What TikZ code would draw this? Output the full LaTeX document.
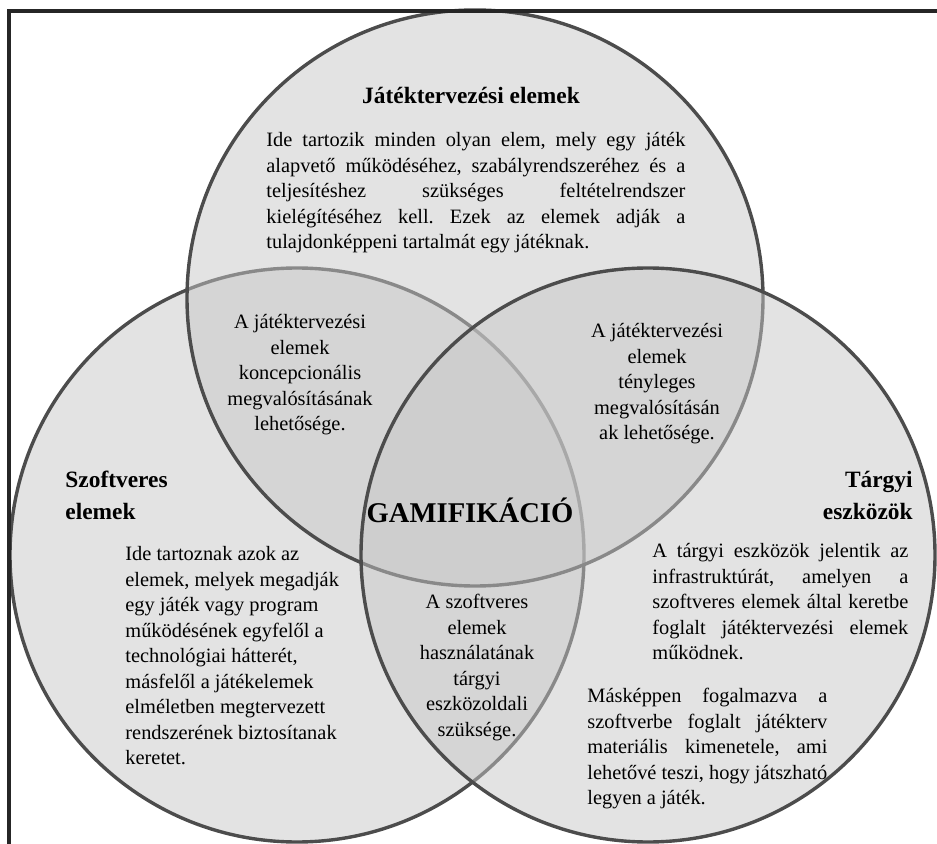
\documentclass[tikz,border=0pt]{standalone}
\usepackage{fontspec}
\setmainfont{Liberation Serif}
\definecolor{vennfill}{gray}{0.78}
\definecolor{vennline}{gray}{0.3}
\frenchspacing
\hyphenpenalty=10000
\exhyphenpenalty=10000
\tolerance=10000
\hbadness=10000

\begin{document}
\begin{tikzpicture}[x=0.5pt,y=-0.5pt,
  venn/.style={draw=vennline, line width=1.7pt, fill=vennfill, fill opacity=0.5},
  head/.style={inner sep=0pt, font=\fontsize{11.7}{16}\selectfont\bfseries},
  body/.style={inner sep=0pt, font=\fontsize{10.2}{12.75}\selectfont},
  just/.style={body, align=justify}]
\useasboundingbox (0,0) rectangle (937,844);
\draw[venn] (297,555) circle (143.5pt);
\draw[venn] (475,298) circle (144pt);
\draw[venn] (648,555) circle (143.5pt);
\draw[line width=1.7pt, black!85] (9,844) -- (9,11) -- (937,11);
\node[head, anchor=base] (jtitle) at (471,104) {Játéktervezési elemek};
\node[just, text width=209.5pt, anchor=north west] (jtext) at (266,132) {Ide tartozik minden olyan elem, mely egy játék\linebreak alapvető működéséhez, szabályrendszeréhez és a\linebreak teljesítéshez szükséges feltételrendszer\linebreak kielégítéséhez kell. Ezek az elemek adják a\linebreak tulajdonképpeni tartalmát egy játéknak.};
\node[body, align=center, anchor=north] (jsz) at (300,314) {A játéktervezési\\elemek\\koncepcionális\\megvalósításának\\lehetősége.};
\node[body, align=center, anchor=north] (jt) at (657,323) {A játéktervezési\\elemek\\tényleges\\megvalósításán\\ak lehetősége.};
\node[head, align=left, anchor=north west] (sztitle) at (65,471) {Szoftveres\\elemek};
\node[inner sep=0pt, font=\fontsize{14.3}{17}\selectfont\bfseries, anchor=base] (gam) at (470,523) {GAMIFIKÁCIÓ};
\node[body, align=left, anchor=north west] (sztext) at (125,546) {Ide tartoznak azok az\\elemek, melyek megadják\\egy játék vagy program\\működésének egyfelől a\\technológiai hátterét,\\másfelől a játékelemek\\elméletben megtervezett\\rendszerének biztosítanak\\keretet.};
\node[body, align=center, anchor=north] (szt) at (477,594) {A szoftveres\\elemek\\használatának\\tárgyi\\eszközoldali\\szüksége.};
\node[head, align=right, anchor=north east] (ttitle) at (913,471) {Tárgyi\\eszközök};
\node[just, text width=128pt, anchor=north west] (ttext) at (652,543) {A tárgyi eszközök jelentik az\linebreak infrastruktúrát, amelyen a\linebreak szoftveres elemek által keretbe\linebreak foglalt játéktervezési elemek\linebreak működnek.};
\node[just, text width=120pt, anchor=north west] (ttext2) at (587,688) {Másképpen fogalmazva a\linebreak szoftverbe foglalt játékterv\linebreak materiális kimenetele, ami\linebreak lehetővé teszi, hogy játszható\linebreak legyen a játék.};
\end{tikzpicture}
\end{document}
